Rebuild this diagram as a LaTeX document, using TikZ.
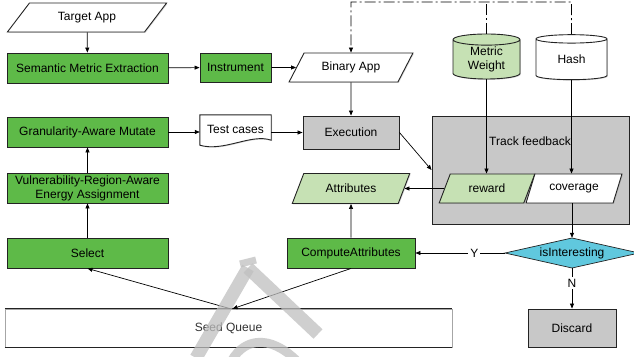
\documentclass[tikz,border=0pt]{standalone}
\usepackage{fontspec}
\setmainfont{Liberation Sans}
\usetikzlibrary{shapes.geometric,arrows.meta,shadows,calc}
\definecolor{boxgreen}{RGB}{94,186,72}
\definecolor{palegreen}{RGB}{198,225,180}
\definecolor{boxgray}{RGB}{200,200,200}
\definecolor{diacyan}{RGB}{96,200,222}
\definecolor{edge}{RGB}{35,35,35}
\begin{document}
\begin{tikzpicture}[x=1pt,y=-1pt,
  font=\fontsize{12}{14}\selectfont,
  base/.style={draw=edge, line width=0.9pt, inner sep=0pt, align=center,
    drop shadow={shadow xshift=0.9pt, shadow yshift=-0.9pt, opacity=0.3}},
  greenbox/.style={base, rectangle, fill=boxgreen},
  graybox/.style={base, rectangle, fill=boxgray},
  para/.style n args={2}{base, trapezium, trapezium stretches=true,
    trapezium left angle=#1, trapezium right angle=#2},
  cyl/.style={base, cylinder, shape border rotate=90, aspect=0.3},
  flow/.style={draw=black, line width=0.7pt, -{Triangle[length=5pt,width=4pt]}},
  ddash/.style={draw=black, line width=0.7pt,
    dash pattern=on 11pt off 3pt on 2pt off 3pt},
  tag/.style={fill=white, inner sep=2pt},
]
\clip (0,0) rectangle (634,356);
\fill[white] (0,0) rectangle (634,356);

% left column
\node[para={44}{136}, fill=white, minimum width=160, minimum height=29] (target) at (87,17.5) {Target App};
\node[greenbox, minimum width=161, minimum height=30] (sme) at (87.5,68) {Semantic Metric Extraction};
\node[greenbox, minimum width=161, minimum height=30] (gam) at (87.5,132) {Granularity-Aware Mutate};
\node[greenbox, minimum width=161, minimum height=30] (vra) at (87.5,188) {Vulnerability-Region-Aware\\Energy Assignment};
\node[greenbox, minimum width=161, minimum height=30] (select) at (87.5,253) {Select};

% middle columns
\node[greenbox, minimum width=71, minimum height=29] (instr) at (235.5,67.5) {Instrument};
\node[rectangle, minimum width=71, minimum height=28, inner sep=0pt] (test) at (235.5,129) {};
\filldraw[fill=white, draw=edge, line width=0.9pt,
  drop shadow={shadow xshift=0.9pt, shadow yshift=-0.9pt, opacity=0.3}]
  (test.north west) -- (test.north east) -- ($(test.south east)+(0,-3)$)
  .. controls +(-20,-7) and +(24,7) .. ($(test.south west)+(0,2)$) -- cycle;
\node at (test) {Test cases};

\node[para={50}{130}, fill=white, minimum width=124, minimum height=29] (binapp) at (351,67.5) {Binary App};
\node[graybox, minimum width=96, minimum height=33] (exec) at (351,132.5) {Execution};
\node[para={55}{125}, fill=palegreen, minimum width=118, minimum height=30] (attr) at (351,188.5) {Attributes};
\node[greenbox, minimum width=128, minimum height=30] (compute) at (351,253) {ComputeAttributes};

% feedback tracking
\node[cyl, fill=palegreen, minimum width=67, minimum height=45] (mw) at (486.5,59.5) {Metric\\Weight};
\node[cyl, fill=white, minimum width=71, minimum height=45] (hash) at (571.5,59.5) {Hash};
\node[graybox, minimum width=197, minimum height=108] (track) at (530.5,170) {};
\node (tracklbl) at (530,141) {Track feedback};
\node[para={58}{122}, fill=palegreen, minimum width=96, minimum height=29] (reward) at (487,188.5) {reward};
\node[para={58}{122}, fill=white, minimum width=96, minimum height=29] (cover) at (574,188.5) {coverage};

% decision diamond
\coordinate (isc) at (572,253);
\filldraw[fill=diacyan, draw=edge, line width=0.7pt]
  ($(isc)+(-67,0)$) -- ($(isc)+(0,-15)$) -- ($(isc)+(67,0)$) -- ($(isc)+(0,15)$) -- cycle;
\node[rectangle, inner sep=0pt, minimum width=134, minimum height=30] (isint) at (isc) {isInteresting};
\node[graybox, minimum width=88, minimum height=38] (discard) at (572,328) {Discard};

% seed queue
\node[rectangle, draw=gray!70, line width=0.5pt, fill=white, text=black!80,
  minimum width=447, minimum height=38, inner sep=0pt] (seed) at (228.5,328) {Seed Queue};
\draw[edge, line width=1pt] (seed.north west) -- (seed.north east);
\draw[edge, line width=1pt] (seed.south west) -- (seed.south east);

% connectors
\draw[flow] (target) -- (sme);
\draw[flow] (sme) -- (instr);
\draw[flow] (instr) -- (binapp);
\draw[flow] (binapp) -- (exec);
\draw[flow] (gam.east) -- (gam.east -| test.west);
\draw[flow] (exec.west -| test.east) -- (exec.west);
\draw[flow] (exec.east) -- (track.west);
\coordinate (ddtop) at (571.5,2);
\draw[ddash, -{Triangle[length=5pt,width=4pt]}] (hash.north) -- (ddtop) -| (binapp.north);
\draw[ddash] (mw.north) -- (mw.north |- ddtop);
\draw[flow] (mw.south) -- (mw.south |- reward.north);
\draw[flow] (hash.south) -- (hash.south |- cover.north);
\draw[flow] (reward.west) -- (reward.west -| attr.east);
\draw[flow] (isint.north |- cover.south) -- (isint.north);
\draw[flow] (isint.west) -- node[tag, pos=0.34] {Y} (compute.east);
\draw[flow] (isint.south) -- node[tag, pos=0.37] {N} (discard.north);
\draw[flow] (compute.north) -- (attr.south);
\draw[flow] (compute.south) -- ([xshift=4pt]seed.north);
\draw[flow] ([xshift=2pt]seed.north) -- (select.south);
\draw[flow] (select) -- (vra);
\draw[flow] (vra) -- (gam);

% faint lettermark over the queue
\begin{scope}[draw=gray!50, opacity=0.75, line width=13pt]
  \draw (196,358) -- (248,268);
  \draw (248,268) -- (318,334);
  \draw[line width=9pt] (232,360) .. controls (245,338) and (270,335) .. (296,360);
  \draw[line width=7pt] (240,264) -- (256,260);
\end{scope}
\end{tikzpicture}
\end{document}
